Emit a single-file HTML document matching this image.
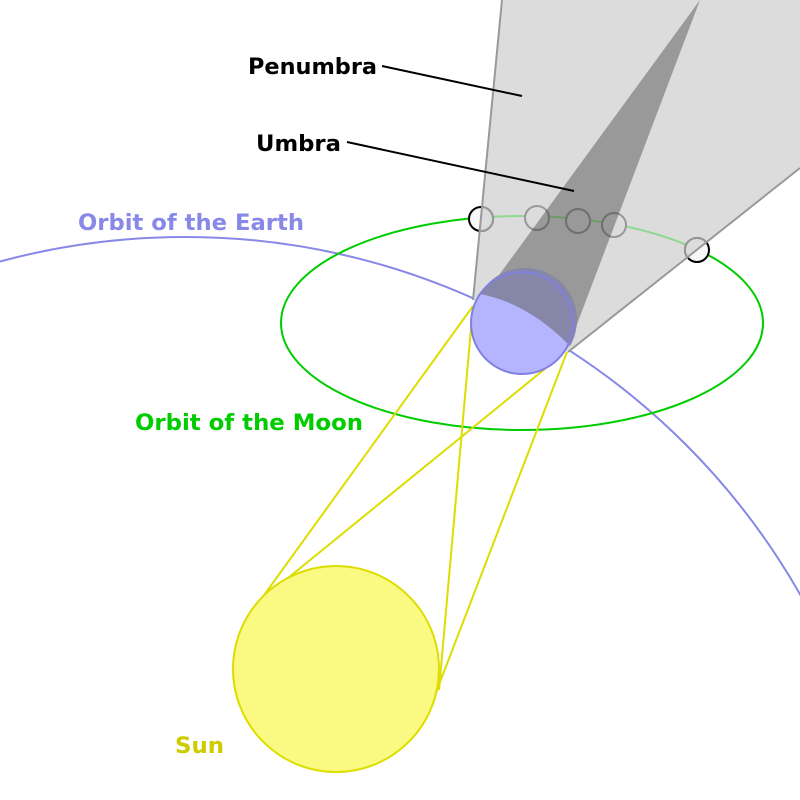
<!DOCTYPE html>
<html><head><style>html,body{margin:0;padding:0;background:#fff;overflow:hidden;width:800px;height:800px}svg{display:block}</style></head>
<body>
<svg width="800" height="800" viewBox="0 0 800 800" xmlns="http://www.w3.org/2000/svg" font-family="DejaVu Sans, sans-serif" font-weight="bold" font-size="22">
<defs>
<clipPath id="pen"><polygon points="502,0 800,0 800,168 568,352 473,300"/></clipPath>
<clipPath id="umb"><polygon points="483,297 700,0 568,348 540,330"/></clipPath>
</defs>
<rect width="800" height="800" fill="#fff"/>
<circle cx="185" cy="945" r="708" fill="none" stroke="#8888e8" stroke-width="2"/>
<ellipse cx="522" cy="323" rx="241" ry="107" fill="none" stroke="#00cc00" stroke-width="2"/>
<g stroke="#dddd00" stroke-width="2" fill="none">
<line x1="262" y1="598" x2="473" y2="306"/>
<line x1="288" y1="578" x2="546" y2="368"/>
<line x1="439" y1="690" x2="473" y2="306"/>
<line x1="435" y1="695" x2="567" y2="352"/>
</g>
<circle cx="336" cy="669" r="103" fill="#fafa82" stroke="#dddd00" stroke-width="2"/>
<polygon points="502,0 800,0 800,168 568,352 473,300" fill="#dcdcdc"/>
<polygon points="483,297 700,0 568,348 540,330" fill="#999"/>
<g clip-path="url(#pen)">
<ellipse cx="522" cy="323" rx="241" ry="107" fill="none" stroke="#90d890" stroke-width="2"/>
</g>
<g clip-path="url(#umb)">
<ellipse cx="522" cy="323" rx="241" ry="107" fill="none" stroke="#6a9a6a" stroke-width="2"/>
</g>
<g fill="#f8f8f8" stroke="#000" stroke-width="2">
<circle cx="481" cy="219" r="12"/>
<circle cx="697" cy="250" r="12"/>
</g>
<g clip-path="url(#pen)" fill="#dcdcdc" stroke="#999" stroke-width="2">
<circle cx="481" cy="219" r="12"/>
<circle cx="537" cy="218" r="12"/>
<circle cx="578" cy="221" r="12"/>
<circle cx="614" cy="225" r="12"/>
<circle cx="697" cy="250" r="12"/>
</g>
<g clip-path="url(#umb)" fill="#999" stroke="#6e6e6e" stroke-width="2">
<circle cx="537" cy="218" r="12"/>
<circle cx="578" cy="221" r="12"/>
<circle cx="614" cy="225" r="12"/>
</g>
<path d="M502,0 L473,300" stroke="#999" stroke-width="2" fill="none"/>
<path d="M568,352 L800,168" stroke="#999" stroke-width="2" fill="none"/>
<circle cx="522" cy="323" r="51" fill="#b5b5ff"/>
<path d="M480,294 Q528,303 570,346 A51 51 0 0 0 480,294 Z" fill="#8686a8"/>
<circle cx="522" cy="323" r="51" fill="none" stroke="#8080e0" stroke-width="2"/>
<line x1="382" y1="66" x2="522" y2="96" stroke="#000" stroke-width="2"/>
<line x1="347" y1="142" x2="574" y2="191" stroke="#000" stroke-width="2"/>
<text x="248" y="74" fill="#000" textLength="129" lengthAdjust="spacingAndGlyphs">Penumbra</text>
<text x="256" y="151" fill="#000" textLength="85" lengthAdjust="spacingAndGlyphs">Umbra</text>
<text x="78" y="230" fill="#8888e8" textLength="226" lengthAdjust="spacingAndGlyphs">Orbit of the Earth</text>
<text x="135" y="430" fill="#00cc00" textLength="228" lengthAdjust="spacingAndGlyphs">Orbit of the Moon</text>
<text x="175" y="753" fill="#cccc00" textLength="49" lengthAdjust="spacingAndGlyphs">Sun</text>
</svg>
</body></html>
